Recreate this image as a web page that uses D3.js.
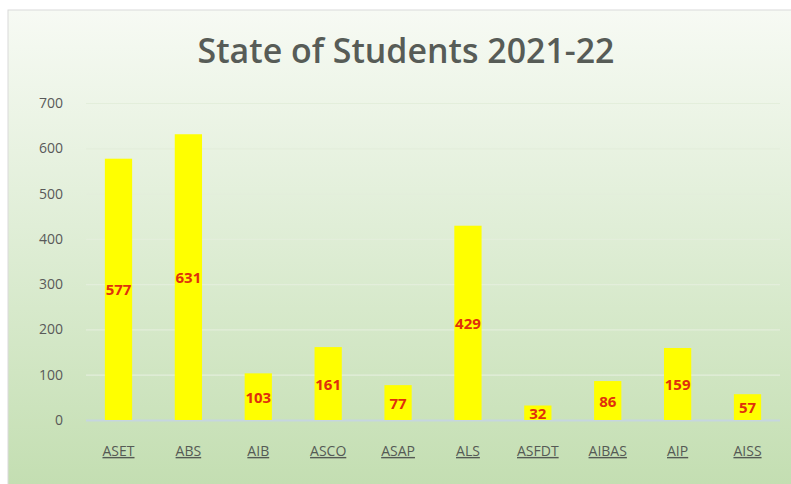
<!DOCTYPE html>
<html>
<head>
<meta charset="utf-8">
<script src="https://cdn.jsdelivr.net/npm/d3@7"></script>
<style>
  html, body { margin: 0; padding: 0; background: #fff; }
  #chart { width: 791px; height: 484px; }
</style>
</head>
<body>
<div id="chart"></div>
<script>
// Chart data
const programs = ['ASET', 'ABS', 'AIB', 'ASCO', 'ASAP', 'ALS', 'ASFDT', 'AIBAS', 'AIP', 'AISS'];
const students = [577, 631, 103, 161, 77, 429, 32, 86, 159, 57];
const yTicks = [0, 100, 200, 300, 400, 500, 600, 700];

function renderBarChart(containerId) {
    const container = d3.select(`#${containerId}`);
    container.selectAll('*').remove();

    const W = 791, H = 484;
    const frame = { x: 8, y: 10, w: 790, h: 480 };
    const plot = { left: 86, right: 780, top: 103, bottom: 420 };

    const svg = container.append('svg')
        .attr('width', W)
        .attr('height', H);

    const grad = svg.append('defs').append('linearGradient')
        .attr('id', 'bg')
        .attr('x1', 0).attr('y1', 0).attr('x2', 0).attr('y2', 1);
    grad.append('stop').attr('offset', '0%').attr('stop-color', '#f7faf4');
    grad.append('stop').attr('offset', '45%').attr('stop-color', '#e0eed7');
    grad.append('stop').attr('offset', '100%').attr('stop-color', '#c3deb1');

    svg.append('rect')
        .attr('x', frame.x).attr('y', frame.y)
        .attr('width', frame.w).attr('height', frame.h)
        .attr('fill', 'url(#bg)')
        .attr('stroke', '#d9d9d9')
        .attr('stroke-width', 1);

    svg.append('text')
        .attr('x', 406)
        .attr('y', 63)
        .attr('text-anchor', 'middle')
        .attr('textLength', 417)
        .attr('lengthAdjust', 'spacingAndGlyphs')
        .style('font-family', '"Open Sans", sans-serif')
        .style('font-size', '35px')
        .style('font-weight', '600')
        .style('fill', '#575c57')
        .text('State of Students 2021-22');

    const x = d3.scaleBand()
        .domain(programs)
        .range([plot.left, plot.right])
        .paddingInner(0.61)
        .paddingOuter(0.27);

    const y = d3.scaleLinear()
        .domain([0, 700])
        .range([plot.bottom, plot.top]);

    // gridlines + y labels
    const yAxis = svg.append('g')
        .attr('transform', `translate(${plot.left},0)`)
        .call(d3.axisLeft(y).tickValues(yTicks).tickSize(-(plot.right - plot.left)).tickPadding(23));
    yAxis.select('.domain').remove();
    yAxis.selectAll('line')
        .attr('stroke', d => d === 0 ? '#c6d6e0' : '#e3eedb')
        .attr('stroke-width', d => d === 0 ? 2 : 1.2);
    yAxis.selectAll('text')
        .style('font-family', '"Open Sans", sans-serif')
        .style('font-size', '14px')
        .attr('fill', '#595959');

    const data = programs.map((p, i) => ({ name: p, value: students[i] }));

    svg.selectAll('.bar')
        .data(data)
        .enter()
        .append('rect')
        .attr('class', 'bar')
        .attr('x', d => x(d.name))
        .attr('y', d => y(d.value))
        .attr('width', x.bandwidth())
        .attr('height', d => y(0) - y(d.value))
        .attr('fill', '#ffff00');

    svg.selectAll('.val')
        .data(data)
        .enter()
        .append('text')
        .attr('class', 'val')
        .attr('x', d => x(d.name) + x.bandwidth() / 2)
        .attr('y', d => (y(0) + y(d.value)) / 2 + 6)
        .attr('text-anchor', 'middle')
        .style('font-family', '"Open Sans", sans-serif')
        .style('font-size', '15px')
        .style('font-weight', 'bold')
        .attr('fill', '#e0300c')
        .text(d => d.value);

    // x labels (underlined)
    const xAxis = svg.append('g')
        .attr('transform', `translate(0,${plot.bottom})`)
        .call(d3.axisBottom(x).tickSize(0).tickPadding(26));
    xAxis.select('.domain').remove();
    xAxis.selectAll('text')
        .style('font-family', '"Open Sans", sans-serif')
        .style('font-size', '14px')
        .style('text-decoration', 'underline')
        .attr('fill', '#555a55');
}

renderBarChart('chart');
</script>
</body>
</html>
